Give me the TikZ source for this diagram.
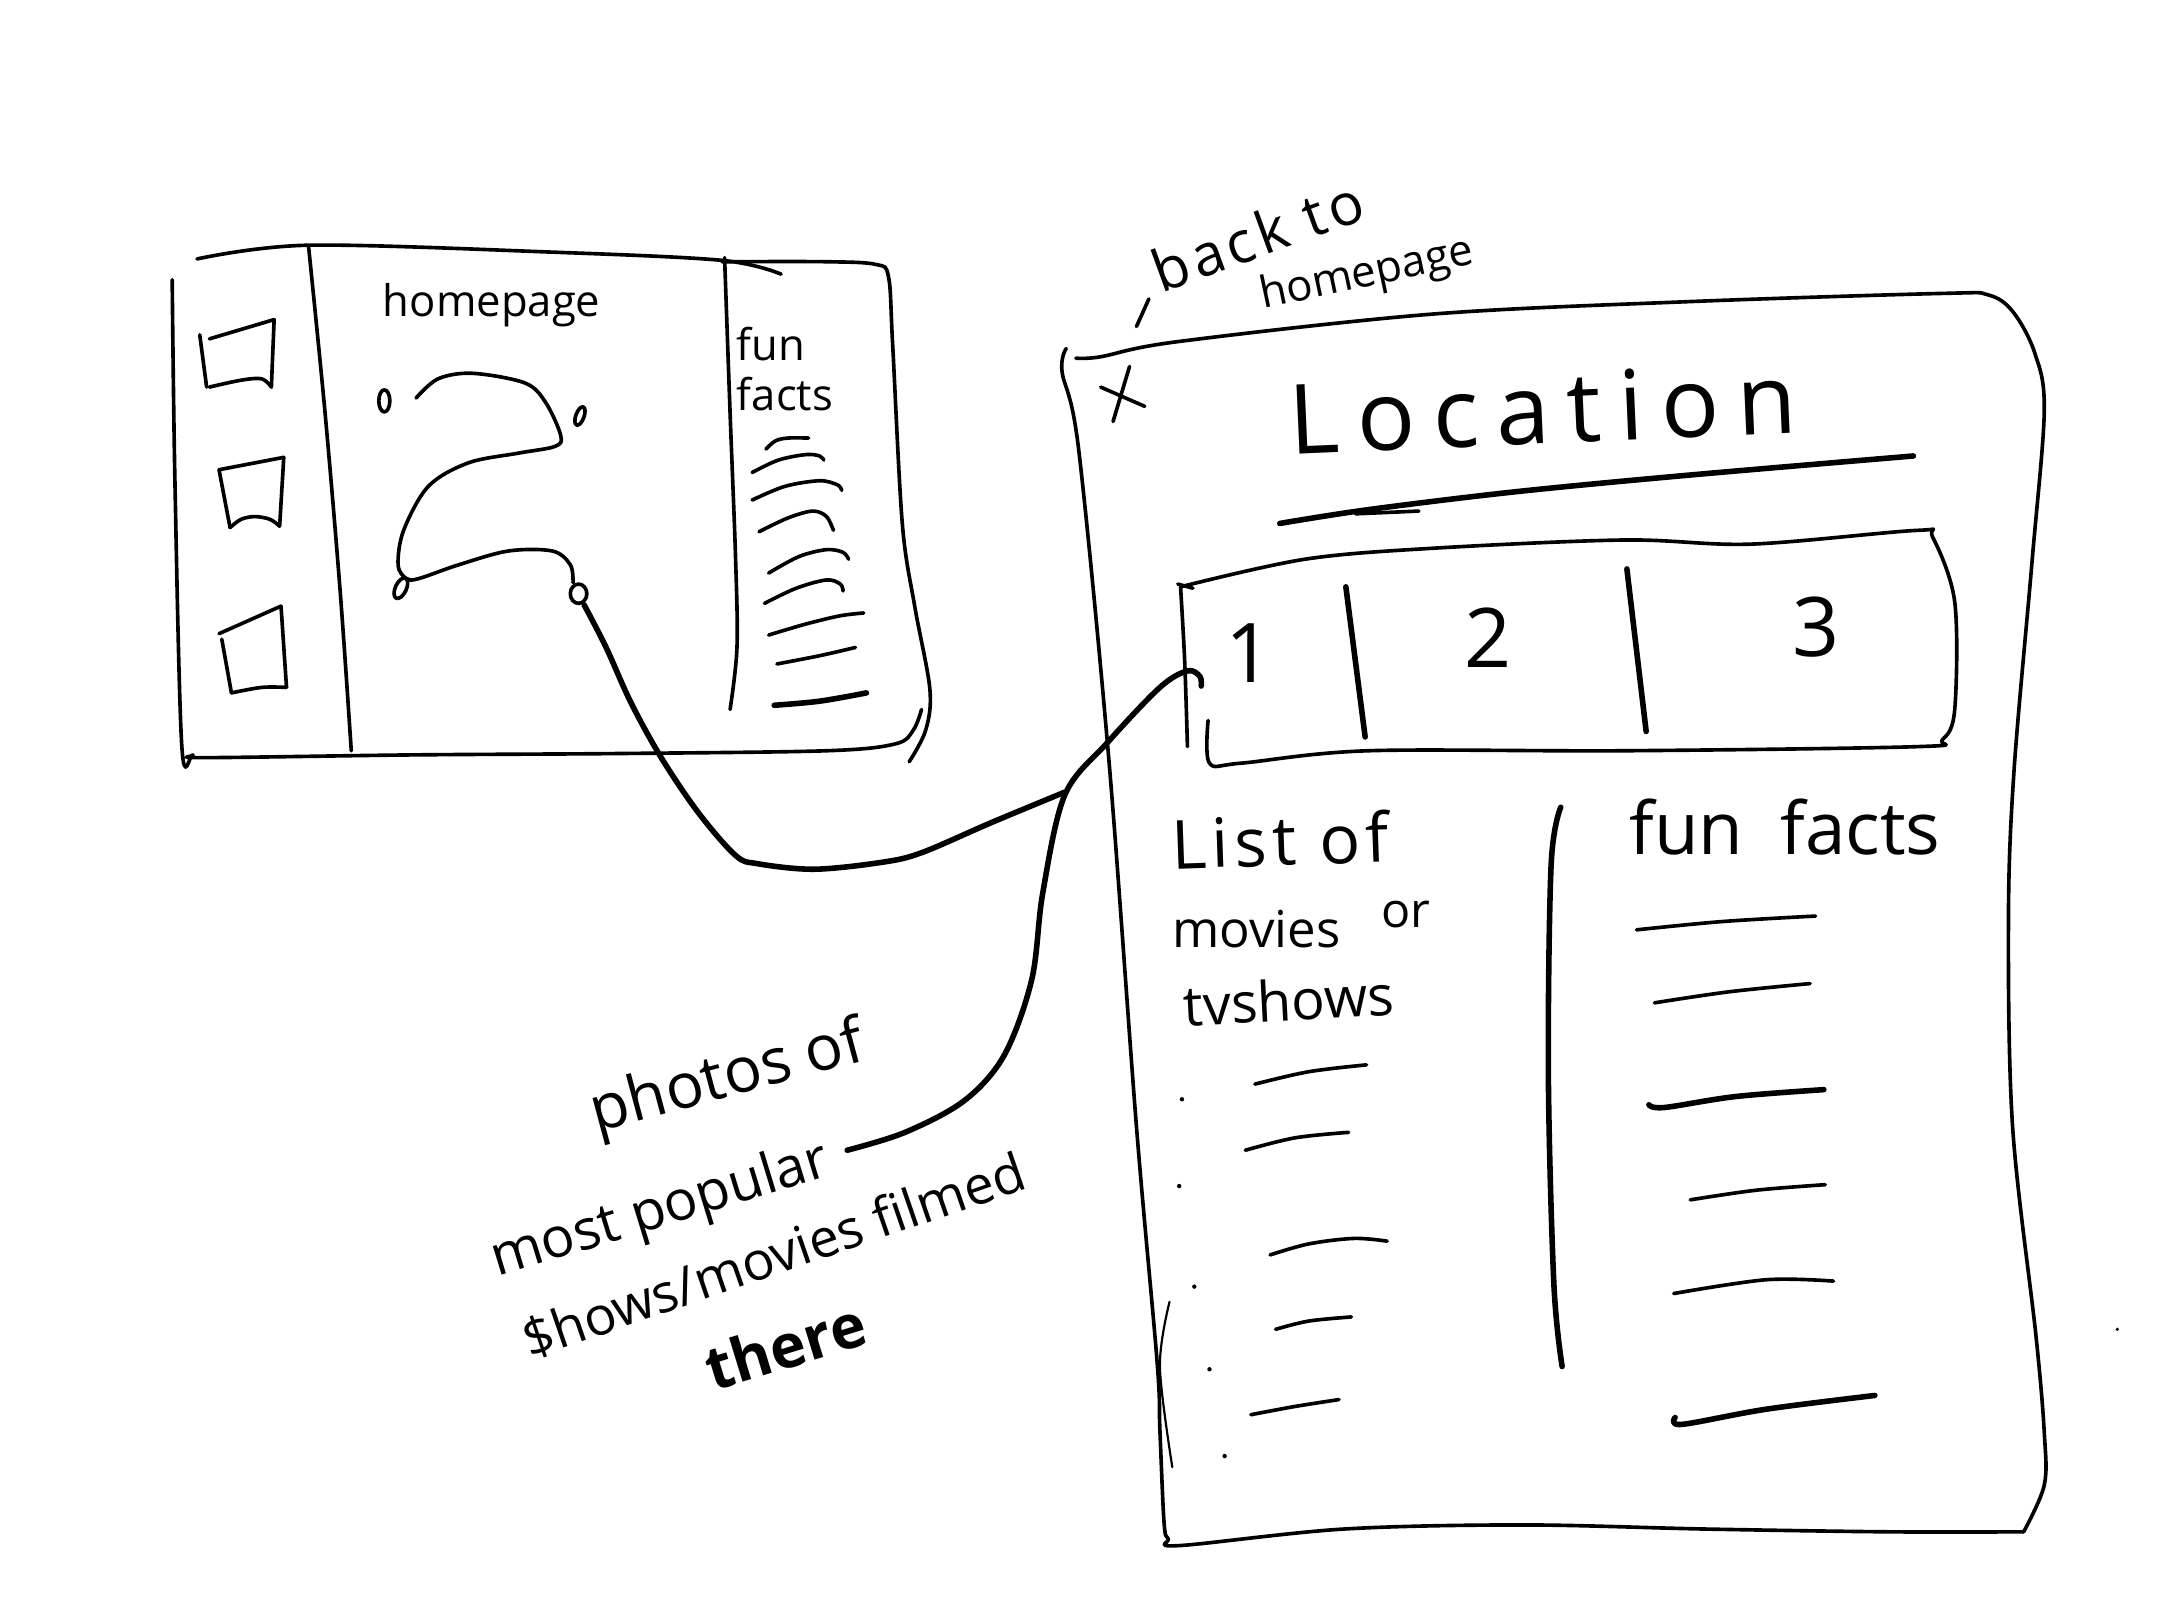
\documentclass[tikz,border=0pt]{standalone}
\usepackage{fontspec}
\setmainfont{Open Sans}
\newcommand\hwfont[2]{\fontsize{#1}{#1}\selectfont\addfontfeature{LetterSpace=#2}}
\begin{document}
\begin{tikzpicture}[x=0.01cm,y=-0.01cm,
  pen/.style={line width=0.75pt,line cap=round,line join=round},
  heavy/.style={pen,line width=1.15pt},
  thinpen/.style={pen,line width=0.45pt},
  txt/.style={inner sep=0pt,outer sep=0pt},
  sk/.style={smooth,tension=0.55}]
\useasboundingbox[fill=white] (0,0) rectangle (1568,1176);

% ---------- homepage frame ----------
\draw[pen] plot[sk] coordinates {(143,188) (224,178) (400,183) (524,189) (567,199)};
\draw[pen] plot[sk] coordinates {(524,190) (600,190) (636,192) (645,201) (648,250) (655,380) (664,440) (675,500) (672,530) (660,553)};
\draw[pen] plot[sk] coordinates {(125,203) (127,350) (132,542) (140,548) (148,550) (300,548) (450,547) (600,545) (650,540) (663,530) (669,515)};
\draw[pen] plot[sk] coordinates {(224,179) (236,300) (247,430) (255,545)};
\draw[pen] plot[sk] coordinates {(526,187) (530,300) (534,406) (535,470) (530,515)};
% squares
\draw[pen] (152,246) -- (199,232) -- (197,281);
\draw[pen] plot[sk] coordinates {(152,281) (175,276) (190,275) (197,281)};
\draw[pen] (145,243) -- (150,281);
\draw[pen] (159,341) -- (206,332) -- (203,382);
\draw[pen] plot[sk] coordinates {(167,383) (175,377) (185,375) (196,377) (203,382)};
\draw[pen] (159,341) -- (167,383);
\draw[pen] (159,460) -- (204,440) -- (208,499);
\draw[pen] plot[sk] coordinates {(168,503) (190,499) (208,499)};
\draw[pen] (161,464) -- (168,503);
% text
\node[txt,anchor=base west] (hp) at (278,230) {\hwfont{9}{0}homepage};
\node[txt,anchor=base west] (funA) at (535,262) {\hwfont{9}{0}fun};
\node[txt,anchor=base west] (funB) at (535,298) {\hwfont{9}{0}facts};
% route drawing
\draw[pen] (279,291) ellipse [x radius=4, y radius=8];
\draw[pen,rotate around={-20:(421,302)}] (421,302) ellipse [x radius=3, y radius=7];
\draw[pen,rotate around={-25:(291,427)}] (291,427) ellipse [x radius=4, y radius=8];
\draw[pen] (420,431) ellipse [x radius=6, y radius=7];
\draw[pen] plot[sk] coordinates {(302,289) (318,275) (343,271) (381,278) (396,292) (407,316) (403,324) (376,329) (340,336) (311,353) (293,385) (289,410) (295,420) (304,420) (333,410) (369,400) (401,400) (414,410) (416,423)};
% fun facts squiggles
\draw[pen] plot[sk] coordinates {(556,326) (563,320) (572,318) (587,318)};
\draw[pen] plot[sk] coordinates {(546,343) (565,334) (585,330) (595,331) (598,334)};
\draw[pen] plot[sk] coordinates {(546,363) (570,353) (595,349) (608,352) (611,356)};
\draw[pen] plot[sk] coordinates {(551,386) (572,376) (590,371) (600,375) (605,385)};
\draw[pen] plot[sk] coordinates {(558,416) (580,404) (600,399) (612,401) (616,406)};
\draw[pen] plot[sk] coordinates {(555,438) (578,427) (600,421) (610,424) (612,429)};
\draw[pen] plot[sk] coordinates {(558,461) (585,453) (610,447) (627,445)};
\draw[pen] plot[sk] coordinates {(564,482) (595,476) (621,470)};
\draw[heavy] plot[sk] coordinates {(562,512) (595,509) (629,503)};

% ---------- connector 1 ----------
\coordinate (c1s) at (424,439);
\coordinate (c1e) at (773,575);
\draw[heavy] plot[sk] coordinates {(c1s) (440,470) (458,510) (480,550) (507,590) (534,621) (550,627) (591,631) (640,626) (669,619) (720,597) (c1e)};

% ---------- location frame ----------
\draw[pen] plot[sk] coordinates {(781,260) (799,259) (855,248) (1040,228) (1225,219) (1410,213) (1443,214) (1461,226) (1477,256) (1484,298) (1475,409) (1462,560) (1458,666) (1461,818) (1478,970) (1484,1040) (1484,1078) (1469,1112)};
\draw[pen] plot[sk] coordinates {(1469,1112) (1371,1112) (1239,1110) (1106,1107) (975,1110) (856,1122) (848,1117) (845,1105) (842,1038) (840,989) (825,818) (805,552) (783,326) (771,270) (774,253)};
\draw[thinpen] plot[sk] coordinates {(849,945) (842,992) (851,1065)};
% close mark and back label
\draw[pen] (820,266) -- (808,306);
\draw[pen] (799,281) -- (831,295);
\draw[pen] (834,217) -- (825,237);
\node[txt,anchor=base west,rotate=20] (back) at (843,213) {\hwfont{12}{8}back to};
\node[txt,anchor=base west,rotate=12] (hp2) at (917,224) {\hwfont{9}{0}homepage};
% title
\node[txt,anchor=base west,rotate=2.5] (loc) at (937,330) {\hwfont{20}{18}Location};
\draw[heavy] plot[sk] coordinates {(929,380) (993,370) (1100,357) (1225,345) (1389,331)};
\draw[pen] (984,373) -- (1030,371);
% tabs
\draw[pen] plot[sk] coordinates {(857,426) (947,406) (1040,398) (1179,392) (1271,395) (1392,385) (1403,390) (1419,437) (1419,515) (1410,537) (1392,542) (1179,545) (993,545) (901,554) (878,554) (877,523)};
\draw[pen] plot[sk] coordinates {(857,426) (860,480) (862,542)};
\draw[pen] (855,424) -- (866,427);
\draw[heavy] (977,426) -- (991,535);
\draw[heavy] (1181,413) -- (1195,531);
\node[txt] (t1) at (907,474) {\hwfont{17}{0}1};
\node[txt] (t2) at (1080,463) {\hwfont{17}{0}2};
\node[txt] (t3) at (1318,455) {\hwfont{17}{0}3};
% left column
\node[txt,anchor=base west,rotate=2] (list) at (851,631) {\hwfont{14}{8}List of};
\node[txt,anchor=base west] (mov) at (851,688) {\hwfont{10.5}{0}movies};
\node[txt,anchor=base west] (orw) at (1003,673) {\hwfont{10}{0}or};
\node[txt,anchor=base west,rotate=3] (tvs) at (860,745) {\hwfont{11.5}{0}tvshows};
\foreach \px/\py in {858/798, 856/861, 867/934, 878/994, 889/1057}
  \fill (\px,\py) circle [radius=1.6];
\draw[pen] plot[sk] coordinates {(911,787) (950,778) (992,773)};
\draw[pen] plot[sk] coordinates {(904,835) (940,826) (979,822)};
\draw[pen] plot[sk] coordinates {(922,911) (950,903) (983,899) (1007,901)};
\draw[pen] plot[sk] coordinates {(926,965) (950,959) (981,956)};
\draw[pen] plot[sk] coordinates {(908,1027) (940,1021) (972,1016)};
% middle divider
\draw[heavy] plot[sk] coordinates {(1133,586) (1126,628) (1124,780) (1128,932) (1134,992)};
% right column
\node[txt,anchor=base west] (ff) at (1183,620) {\hwfont{15}{0}fun\hspace{0.25em} facts};
\draw[pen] plot[sk] coordinates {(1188,675) (1250,669) (1318,665)};
\draw[pen] plot[sk] coordinates {(1201,728) (1255,720) (1314,714)};
\draw[heavy] plot[sk] coordinates {(1197,802) (1208,804) (1260,796) (1324,791)};
\draw[pen] plot[sk] coordinates {(1227,871) (1275,864) (1325,860)};
\draw[pen] plot[sk] coordinates {(1215,939) (1282,929) (1331,930)};
\draw[heavy] plot[sk] coordinates {(1216,1029) (1221,1034) (1282,1023) (1361,1013)};
\fill (1537,965) circle [radius=1.3];

% ---------- photos annotation ----------
\node[txt,anchor=base west,rotate=15] (ph) at (433,822) {\hwfont{13}{0}photos of};
\node[txt,anchor=base west,rotate=17] (mp) at (361,927) {\hwfont{11.5}{0}most popular};
\node[txt,anchor=base west,rotate=19] (sm) at (385,987) {\hwfont{11}{0}\$hows/movies filmed};
\node[txt,anchor=base west,rotate=17] (th) at (518,1010) {\hwfont{12.5}{0}\bfseries there};
\coordinate (c2s) at (615,835);
\coordinate (c2e) at (872,498);
\draw[heavy] plot[sk] coordinates {(c2s) (657,822) (700,799) (729,766) (749,711) (757,648) (773,577) (804,539) (842,499) (862,487) (871,491) (c2e)};
\end{tikzpicture}
\end{document}
